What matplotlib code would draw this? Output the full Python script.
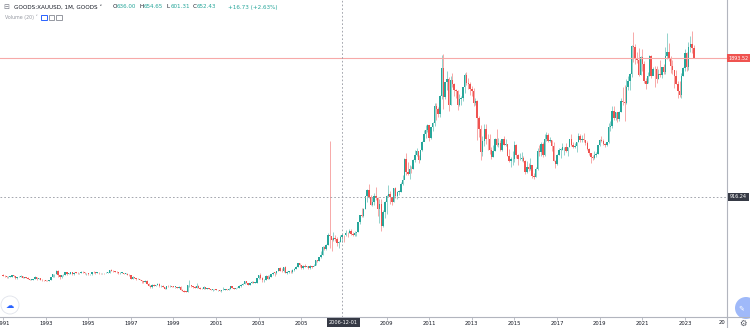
import matplotlib.pyplot as plt
from matplotlib.patches import Ellipse
import numpy as np

# monthly gold candles, Jan 1991 .. Jun 2023
first_open = 370
closes = [
    366, 363, 355, 357, 360, 368, 362, 347, 354, 358, 366, 353,
    354, 353, 341, 337, 337, 343, 357, 340, 349, 339, 334, 333,
    330, 328, 337, 354, 377, 378, 401, 371, 355, 369, 371, 391,
    378, 381, 389, 376, 387, 386, 384, 386, 394, 389, 383, 383,
    375, 376, 392, 389, 385, 387, 383, 382, 384, 383, 387, 387,
    405, 400, 396, 392, 391, 382, 385, 386, 379, 379, 371, 369,
    345, 358, 348, 340, 345, 334, 326, 325, 332, 311, 296, 290,
    303, 297, 301, 310, 293, 296, 288, 273, 294, 292, 294, 288,
    287, 287, 279, 286, 268, 261, 255, 254, 299, 299, 291, 290,
    283, 293, 279, 275, 272, 288, 276, 277, 273, 264, 270, 273,
    265, 267, 258, 264, 268, 270, 266, 273, 293, 279, 275, 277,
    282, 297, 301, 309, 326, 318, 304, 312, 324, 317, 318, 347,
    368, 347, 334, 336, 364, 346, 354, 375, 388, 386, 398, 417,
    400, 396, 427, 387, 394, 395, 391, 409, 416, 429, 453, 438,
    422, 435, 429, 436, 417, 436, 429, 433, 473, 470, 495, 513,
    568, 556, 582, 654, 643, 614, 633, 623, 599, 604, 635.7, 652.43,
    650, 665, 663, 679, 659, 650, 665, 673, 743, 789, 783, 834,
    923, 971, 916, 864, 886, 928, 912, 833, 871, 717, 814, 882,
    927, 942, 916, 884, 980, 926, 955, 955, 1007, 1040, 1182, 1096,
    1081, 1118, 1113, 1179, 1212, 1244, 1181, 1248, 1307, 1358, 1386, 1421,
    1333, 1409, 1439, 1556, 1536, 1500, 1628, 1826, 1620, 1722, 1746, 1564,
    1740, 1711, 1669, 1664, 1561, 1604, 1614, 1687, 1772, 1719, 1711, 1675,
    1663, 1578, 1595, 1472, 1393, 1234, 1312, 1396, 1327, 1323, 1250, 1202,
    1244, 1326, 1284, 1296, 1250, 1327, 1282, 1287, 1209, 1171, 1183, 1184,
    1283, 1213, 1183, 1183, 1190, 1172, 1095, 1132, 1115, 1142, 1065, 1061,
    1118, 1238, 1233, 1293, 1215, 1322, 1351, 1309, 1316, 1277, 1173, 1152,
    1211, 1249, 1249, 1268, 1269, 1242, 1269, 1322, 1280, 1271, 1275, 1303,
    1345, 1318, 1325, 1316, 1299, 1253, 1224, 1201, 1192, 1215, 1222, 1282,
    1321, 1313, 1292, 1284, 1305, 1409, 1414, 1520, 1472, 1513, 1464, 1517,
    1589, 1585, 1577, 1687, 1730, 1781, 1975, 1968, 1886, 1879, 1776, 1898,
    1848, 1734, 1708, 1769, 1907, 1770, 1814, 1813, 1743, 1783, 1774, 1829,
    1797, 1909, 1937, 1897, 1837, 1807, 1766, 1711, 1661, 1633, 1769, 1824,
    1928, 1827, 1969, 1990, 1963, 1893.52,
]
highs = [
    375, 370, 366, 361, 362, 370, 372, 363, 356, 362, 370, 367,
    360, 360, 354, 344, 341, 345, 362, 358, 351, 349, 340, 337,
    334, 333, 338, 356, 378, 381, 406, 406, 363, 372, 380, 393,
    395, 386, 393, 393, 389, 390, 389, 388, 399, 396, 391, 385,
    384, 380, 392, 396, 390, 393, 390, 386, 386, 387, 390, 390,
    408, 416, 404, 398, 396, 392, 389, 390, 388, 385, 382, 375,
    368, 366, 360, 351, 349, 346, 336, 331, 336, 335, 313, 301,
    306, 305, 303, 315, 314, 301, 299, 290, 296, 302, 299, 295,
    292, 290, 290, 291, 292, 270, 264, 260, 302, 338, 301, 291,
    292, 318, 298, 287, 282, 294, 290, 280, 278, 274, 271, 276,
    275, 268, 268, 265, 290, 273, 272, 279, 295, 293, 280, 281,
    285, 300, 305, 312, 328, 329, 318, 317, 330, 326, 322, 348,
    373, 388, 354, 340, 374, 369, 369, 377, 393, 392, 400, 417,
    427, 418, 429, 433, 396, 398, 407, 411, 418, 433, 455, 457,
    439, 438, 447, 437, 437, 441, 431, 445, 473, 478, 496, 540,
    574, 573, 587, 664, 1310, 630, 674, 652, 638, 607, 651, 654.65,
    652, 689, 673, 692, 691, 672, 683, 675, 745, 795, 841, 838,
    928, 975, 1011, 931, 917, 943, 986, 916, 903, 907, 827, 889,
    931, 1006, 962, 917, 982, 990, 958, 966, 1023, 1070, 1195, 1227,
    1161, 1140, 1134, 1185, 1249, 1265, 1212, 1250, 1308, 1388, 1424, 1432,
    1424, 1413, 1447, 1575, 1577, 1553, 1632, 1912, 1920, 1725, 1804, 1763,
    1764, 1791, 1716, 1677, 1666, 1641, 1630, 1692, 1788, 1796, 1755, 1723,
    1695, 1683, 1616, 1600, 1487, 1424, 1347, 1433, 1434, 1362, 1361, 1267,
    1280, 1332, 1392, 1331, 1315, 1326, 1345, 1322, 1288, 1255, 1200, 1238,
    1308, 1290, 1219, 1224, 1232, 1205, 1175, 1170, 1157, 1191, 1142, 1088,
    1128, 1263, 1283, 1304, 1303, 1362, 1375, 1367, 1339, 1318, 1306, 1180,
    1220, 1264, 1261, 1295, 1272, 1296, 1272, 1326, 1357, 1306, 1299, 1306,
    1366, 1361, 1356, 1369, 1320, 1309, 1265, 1218, 1214, 1243, 1237, 1284,
    1326, 1346, 1324, 1296, 1306, 1439, 1453, 1555, 1557, 1518, 1516, 1523,
    1611, 1689, 1704, 1747, 1765, 1789, 1984, 2075, 1992, 1933, 1966, 1906,
    1959, 1871, 1755, 1798, 1913, 1917, 1832, 1834, 1836, 1814, 1877, 1831,
    1853, 1974, 2070, 1998, 1910, 1880, 1783, 1808, 1735, 1730, 1786, 1833,
    1959, 1935, 2009, 2049, 2081, 1985,
]
lows = [
    364, 357, 352, 353, 354, 357, 360, 345, 346, 354, 357, 352,
    350, 350, 340, 336, 334, 336, 342, 339, 340, 338, 331, 332,
    328, 326, 326, 336, 354, 360, 377, 356, 346, 350, 366, 369,
    374, 376, 380, 369, 373, 382, 380, 375, 384, 383, 377, 374,
    370, 371, 373, 386, 381, 385, 381, 379, 381, 381, 382, 384,
    387, 399, 393, 389, 388, 381, 378, 384, 378, 378, 370, 367,
    342, 341, 347, 336, 340, 334, 315, 317, 320, 309, 292, 283,
    278, 292, 292, 299, 290, 284, 287, 271, 276, 286, 290, 284,
    285, 280, 278, 278, 268, 256, 253, 251, 255, 290, 287, 282,
    281, 282, 277, 273, 270, 272, 273, 270, 270, 264, 262, 267,
    263, 256, 256, 255, 263, 264, 265, 265, 271, 278, 272, 273,
    277, 280, 290, 300, 307, 316, 302, 301, 312, 313, 314, 317,
    342, 344, 322, 321, 336, 341, 342, 354, 368, 367, 380, 397,
    398, 392, 391, 383, 375, 387, 387, 388, 401, 413, 426, 430,
    416, 413, 427, 425, 415, 415, 418, 431, 439, 463, 470, 489,
    513, 547, 548, 582, 560, 543, 611, 613, 573, 561, 602, 601.31,
    603, 645, 635, 663, 655, 642, 647, 648, 671, 726, 775, 781,
    834, 880, 912, 860, 853, 859, 900, 786, 737, 681, 705, 772,
    801, 920, 866, 865, 884, 909, 906, 933, 954, 1002, 1044, 1075,
    1074, 1045, 1088, 1114, 1167, 1206, 1155, 1176, 1242, 1316, 1330, 1376,
    1309, 1325, 1381, 1417, 1462, 1478, 1480, 1603, 1535, 1603, 1666, 1523,
    1563, 1688, 1627, 1613, 1527, 1554, 1564, 1589, 1647, 1704, 1673, 1635,
    1626, 1555, 1565, 1321, 1338, 1180, 1208, 1276, 1291, 1251, 1221, 1187,
    1202, 1240, 1277, 1268, 1240, 1241, 1281, 1273, 1205, 1161, 1131, 1142,
    1167, 1191, 1142, 1175, 1170, 1162, 1077, 1086, 1098, 1110, 1052, 1046,
    1062, 1111, 1208, 1209, 1200, 1208, 1310, 1301, 1302, 1242, 1171, 1122,
    1146, 1211, 1195, 1245, 1214, 1236, 1205, 1267, 1275, 1260, 1265, 1236,
    1302, 1307, 1303, 1301, 1282, 1246, 1211, 1160, 1180, 1182, 1196, 1221,
    1276, 1307, 1281, 1266, 1275, 1299, 1382, 1400, 1459, 1458, 1445, 1454,
    1517, 1562, 1451, 1568, 1670, 1671, 1757, 1863, 1849, 1860, 1764, 1775,
    1803, 1717, 1677, 1720, 1766, 1750, 1791, 1688, 1721, 1746, 1762, 1753,
    1780, 1782, 1890, 1872, 1787, 1784, 1681, 1709, 1615, 1617, 1616, 1765,
    1805, 1804, 1810, 1935, 1932, 1893,
]
tick_years = list(range(1991, 2025, 2))
last_price = 1893.52
cross_price = 916.24
cross_date = "2006-12-01"
ohlc_keys = ["O", "H", "L", "C"]
ohlc_vals = ["636.00", "654.65", "601.31", "652.43"]

UP = '#26a69a'
DOWN = '#ef5350'
TXT = '#131722'

c = np.array(closes, dtype=float)
o = np.concatenate([[first_open], c[:-1]])
h = np.array(highs, dtype=float)
l = np.array(lows, dtype=float)
t = 1991 + np.arange(len(c)) / 12.0
up = c >= o
cols = np.where(up, UP, DOWN)

W, H = 750, 328
fig = plt.figure(figsize=(7.5, 3.28), dpi=100)
ax = fig.add_axes([0, 11 / H, 727 / W, 317 / H])

ax.vlines(t, l, h, colors=cols, lw=0.7, alpha=0.5)
body = np.maximum(np.abs(c - o), 4)
ax.bar(t, body, bottom=np.minimum(o, c), width=0.068, color=cols, lw=0)

ax.set_xlim(1991 - 3 / 21.31, 1991 + 724 / 21.31)
ax.set_ylim(76.5, 2300.5)

for s in ['top', 'left']:
    ax.spines[s].set_visible(False)
for s in ['bottom', 'right']:
    ax.spines[s].set_color('#b2b5be')
    ax.spines[s].set_linewidth(0.8)
ax.set_yticks([])
ax.set_xticks(tick_years)
# 2007 sits under the crosshair date box
ax.set_xticklabels(["" if y == 2007 else str(y) for y in tick_years], fontsize=3.8, color=TXT)
ax.tick_params(axis='x', length=2, width=0.6, color='#b2b5be', pad=1.2)

# price line and crosshair
ax.axhline(last_price, color='#f7a9a8', lw=0.8)
ax.axhline(cross_price, color='#9598a1', lw=0.6, ls=(0, (2, 2.5)))
ax.axvline(2006 + 11 / 12, color='#9598a1', lw=0.6, ls=(0, (2, 2.5)))

fig.add_artist(plt.Line2D([727 / W, 1], [11 / H, 11 / H], color='#b2b5be', lw=0.8))
fig.add_artist(plt.Line2D([727 / W, 727 / W], [0, 11 / H], color='#b2b5be', lw=0.8))

# axis labels on the right / bottom
fig.text(738.5 / W, 1 - 58 / H, f"{last_price:.2f}", fontsize=3.5, color='white',
         ha='center', va='center',
         bbox=dict(boxstyle='square,pad=0.35', fc=DOWN, ec='none'))
fig.text(738.5 / W, 1 - 197 / H, f"{cross_price:.2f}", fontsize=3.5, color='white',
         ha='center', va='center',
         bbox=dict(boxstyle='square,pad=0.35', fc='#363a45', ec='none'))
fig.text(343 / W, 1 - 322.5 / H, cross_date, fontsize=3.6, color='white',
         ha='center', va='center',
         bbox=dict(boxstyle='square,pad=0.4', fc='#363a45', ec='none'))
fig.text(722 / W, 1 - 323 / H, "20", fontsize=3.8, color=TXT, ha='center', va='center')
fig.text(743 / W, 1 - 323 / H, "\u2699", fontsize=6, color='#50535e', ha='center', va='center')

# legend header
fig.text(6 / W, 1 - 7 / H, "\u229f", fontsize=5, color='#787b86', ha='center', va='center')
fig.text(14 / W, 1 - 7 / H, "GOODS:XAUUSD, 1M, GOODS \u02c5", fontsize=4.1, color=TXT,
         va='center')
for i, (key, val) in enumerate(zip(ohlc_keys, ohlc_vals)):
    x = 113 + 26.7 * i
    fig.text(x / W, 1 - 7 / H, key, fontsize=4.1, color=TXT, va='center')
    fig.text((x + 4) / W, 1 - 7 / H, val, fontsize=4.1, color=UP, va='center')
fig.text(228 / W, 1 - 7 / H, "+16.73 (+2.63%)", fontsize=4.1, color=UP, va='center')
fig.text(5 / W, 1 - 17 / H, "Volume (20) \u02c5", fontsize=3.4, color='#9598a1', va='center')
for i, ec in enumerate(['#2962ff', '#9598a1', '#9598a1']):
    fig.add_artist(plt.Rectangle(((41 + 7.5 * i) / W, 1 - 20 / H), 5.5 / W, 5.5 / H,
                                 fc='white', ec=ec, lw=0.7))

# floating buttons
fig.add_artist(Ellipse((10 / W, 1 - 305 / H), 18 / W, 18 / H, transform=fig.transFigure,
                       fc='white', ec='#e0e3eb', lw=0.6))
fig.text(10 / W, 1 - 305 / H, "\u2601", fontsize=6, color='#2962ff', ha='center', va='center')
fig.add_artist(Ellipse((746 / W, 1 - 308 / H), 22 / W, 22 / H, transform=fig.transFigure,
                       fc='#9fb9f9', ec='none'))
fig.text(741 / W, 1 - 308 / H, "\u270e", fontsize=5, color='white', ha='center', va='center')

fig.savefig("out.png", dpi=100)
